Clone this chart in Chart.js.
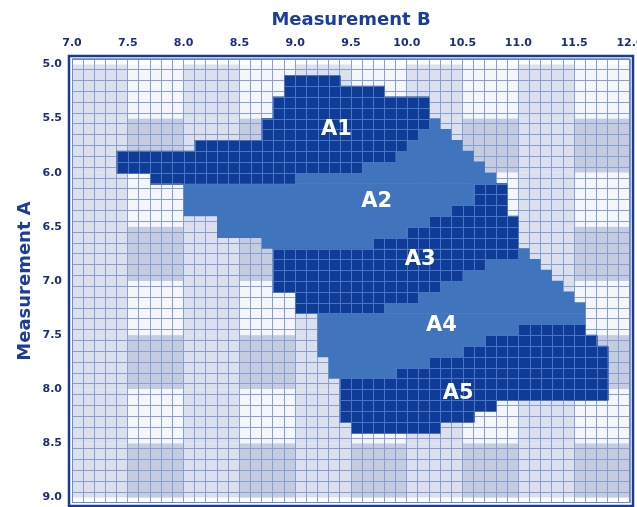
<!DOCTYPE html>
<html>
<head>
<meta charset="utf-8">
<script src="https://cdn.jsdelivr.net/npm/chart.js@4"></script>
<style>
  html, body { margin: 0; padding: 0; background: #fff; }
  #wrap { width: 637px; height: 507px; }
</style>
</head>
<body>
<div id="wrap"><canvas id="myChart"></canvas></div>
<script>
// each row: [Measurement A at top of row, Measurement B from, Measurement B to]
const a1Rows = [
  [5.1, 8.9, 9.4], [5.2, 8.9, 9.8], [5.3, 8.8, 10.2], [5.4, 8.8, 10.2],
  [5.5, 8.7, 10.2], [5.6, 8.7, 10.1], [5.7, 8.1, 10.0], [5.8, 7.4, 9.9],
  [5.9, 7.4, 9.6], [6.0, 7.7, 9.0]
];
const a2Rows = [
  [5.5, 10.2, 10.3], [5.6, 10.1, 10.4], [5.7, 10.0, 10.5], [5.8, 9.9, 10.6],
  [5.9, 9.6, 10.7], [6.0, 9.0, 10.8], [6.1, 8.0, 10.6], [6.2, 8.0, 10.6],
  [6.3, 8.0, 10.4], [6.4, 8.3, 10.2], [6.5, 8.3, 10.0], [6.6, 8.7, 9.7]
];
const a3Rows = [
  [6.1, 10.6, 10.9], [6.2, 10.6, 10.9], [6.3, 10.4, 10.9], [6.4, 10.2, 11.0],
  [6.5, 10.0, 11.0], [6.6, 9.7, 11.0], [6.7, 8.8, 11.0], [6.8, 8.8, 10.7],
  [6.9, 8.8, 10.5], [7.0, 8.8, 10.3], [7.1, 9.0, 10.1], [7.2, 9.0, 9.8]
];
const a4Rows = [
  [6.7, 11.0, 11.1], [6.8, 10.7, 11.2], [6.9, 10.5, 11.3], [7.0, 10.3, 11.4],
  [7.1, 10.1, 11.5], [7.2, 9.8, 11.6], [7.3, 9.2, 11.6], [7.4, 9.2, 11.0],
  [7.5, 9.2, 10.7], [7.6, 9.2, 10.5], [7.7, 9.3, 10.2], [7.8, 9.3, 9.9]
];
const a5Rows = [
  [7.4, 11.0, 11.6], [7.5, 10.7, 11.7], [7.6, 10.5, 11.8], [7.7, 10.2, 11.8],
  [7.8, 9.9, 11.8], [7.9, 9.4, 11.8], [8.0, 9.4, 11.8], [8.1, 9.4, 10.8],
  [8.2, 9.4, 10.6], [8.3, 9.5, 10.3]
];

const regionNames = ["A1", "A2", "A3", "A4", "A5"];
const labelB = [9.37, 9.73, 10.12, 10.31, 10.46];
const labelA = [5.60, 6.27, 6.80, 7.41, 8.04];

const xMin = 7.0, xMax = 12.0, yMin = 5.0, yMax = 9.0;
const cell = 0.1, block = 0.5;

const darkBlue = "#0f3c96";
const lightBlue = "#4074bd";
const titleColor = "#1d3d9c";
const tickColor = "#1c2e7a";

const toBars = rows => rows.map(r => ({ y: r[0] + cell / 2, x: [r[1], r[2]] }));
const isLabel = v => Math.abs(v / block - Math.round(v / block)) < 1e-6;

function region(name, rows, color, dark) {
  return {
    label: name,
    data: toBars(rows),
    rows: rows,
    dark: dark,
    backgroundColor: color,
    borderWidth: 0,
    grouped: false,
    barPercentage: 1.06,
    categoryPercentage: 1
  };
}

// light/grey checks under the grid
const gingham = {
  id: "gingham",
  beforeDraw(chart) {
    const { ctx, scales: { x, y } } = chart;
    ctx.save();
    ctx.fillStyle = "#ffffff";
    ctx.fillRect(0, 0, chart.width, chart.height);
    const nx = Math.round((xMax - xMin) / block), ny = Math.round((yMax - yMin) / block);
    for (let i = 0; i < nx; i++) {
      for (let j = 0; j < ny; j++) {
        const x0 = x.getPixelForValue(xMin + i * block), x1 = x.getPixelForValue(xMin + (i + 1) * block);
        const y0 = y.getPixelForValue(yMin + j * block), y1 = y.getPixelForValue(yMin + (j + 1) * block);
        ctx.fillStyle = i % 2 === 0 ? "#dbe0ec" : (j % 2 === 0 ? "#f5f6fb" : "#c5cce0");
        ctx.fillRect(x0, y0, x1 - x0, y1 - y0);
      }
    }
    ctx.restore();
  }
};

// fine grid showing through the dark areas, plus the area names
const overlay = {
  id: "overlay",
  afterDatasetsDraw(chart) {
    const { ctx, scales: { x, y } } = chart;
    ctx.save();
    ctx.strokeStyle = "#4a74c4";
    ctx.lineWidth = 1;
    chart.data.datasets.forEach(ds => {
      if (!ds.dark) return;
      ds.rows.forEach(r => {
        const py0 = Math.round(y.getPixelForValue(r[0])) + 0.5;
        const py1 = Math.round(y.getPixelForValue(r[0] + cell)) + 0.5;
        const px0 = x.getPixelForValue(r[1]), px1 = x.getPixelForValue(r[2]);
        ctx.beginPath();
        ctx.moveTo(px0, py0); ctx.lineTo(px1, py0);
        ctx.moveTo(px0, py1); ctx.lineTo(px1, py1);
        const n = Math.round((r[2] - r[1]) / cell);
        for (let k = 0; k <= n; k++) {
          const px = Math.round(x.getPixelForValue(r[1] + k * cell)) + 0.5;
          ctx.moveTo(px, py0); ctx.lineTo(px, py1);
        }
        ctx.stroke();
      });
    });
    ctx.fillStyle = "#ffffff";
    ctx.font = "bold 21px 'DejaVu Sans'";
    ctx.textAlign = "center";
    ctx.textBaseline = "middle";
    regionNames.forEach((n, i) => {
      ctx.fillText(n, x.getPixelForValue(labelB[i]), y.getPixelForValue(labelA[i]));
    });
    ctx.restore();
  },
  afterDraw(chart) {
    const { ctx, chartArea: a } = chart;
    ctx.save();
    ctx.strokeStyle = "#6a8bcc";
    ctx.lineWidth = 1;
    ctx.strokeRect(a.left + 0.5, a.top + 0.5, a.width - 1, a.height - 1);
    ctx.strokeStyle = "#1b3a94";
    ctx.lineWidth = 2.5;
    ctx.strokeRect(a.left - 3, a.top - 3, a.width + 6, a.height + 6);
    ctx.restore();
  }
};

const tickFont = { family: "DejaVu Sans", size: 11, weight: "bold" };
const titleFont = { family: "DejaVu Sans", size: 18, weight: "bold" };

new Chart("myChart", {
  type: "bar",
  data: {
    datasets: [
      region("A1", a1Rows, darkBlue, true),
      region("A2", a2Rows, lightBlue, false),
      region("A3", a3Rows, darkBlue, true),
      region("A4", a4Rows, lightBlue, false),
      region("A5", a5Rows, darkBlue, true)
    ]
  },
  options: {
    indexAxis: "y",
    responsive: true,
    maintainAspectRatio: false,
    animation: false,
    layout: { padding: { top: 0, left: 0, right: 7, bottom: 4 } },
    plugins: {
      legend: { display: false },
      tooltip: { enabled: false }
    },
    scales: {
      x: {
        type: "linear",
        position: "top",
        min: xMin,
        max: xMax,
        grid: { color: "#86a0d6", lineWidth: 1, drawTicks: false },
        border: { display: false },
        ticks: {
          stepSize: cell,
          autoSkip: false,
          maxRotation: 0,
          padding: 9,
          color: tickColor,
          font: tickFont,
          callback: v => (isLabel(v) ? v.toFixed(1) : "")
        },
        title: {
          display: true,
          text: "Measurement B",
          color: titleColor,
          font: titleFont,
          padding: { top: 10, bottom: 0 }
        },
        afterFit(scale) {
          scale.height = 59;
          scale.paddingLeft = 0;
          scale.paddingRight = 0;
        }
      },
      y: {
        type: "linear",
        reverse: true,
        min: yMin,
        max: yMax,
        grid: { color: "#86a0d6", lineWidth: 1, drawTicks: false },
        border: { display: false },
        ticks: {
          stepSize: cell,
          autoSkip: false,
          padding: 10,
          color: tickColor,
          font: tickFont,
          callback: v => (isLabel(v) ? v.toFixed(1) : "")
        },
        title: {
          display: true,
          text: "Measurement A",
          color: titleColor,
          font: titleFont,
          padding: { top: 15, bottom: 0 }
        },
        afterFit(scale) {
          scale.width = 72;
          scale.paddingTop = 0;
          scale.paddingBottom = 0;
        }
      }
    }
  },
  plugins: [gingham, overlay]
});
</script>
</body>
</html>
